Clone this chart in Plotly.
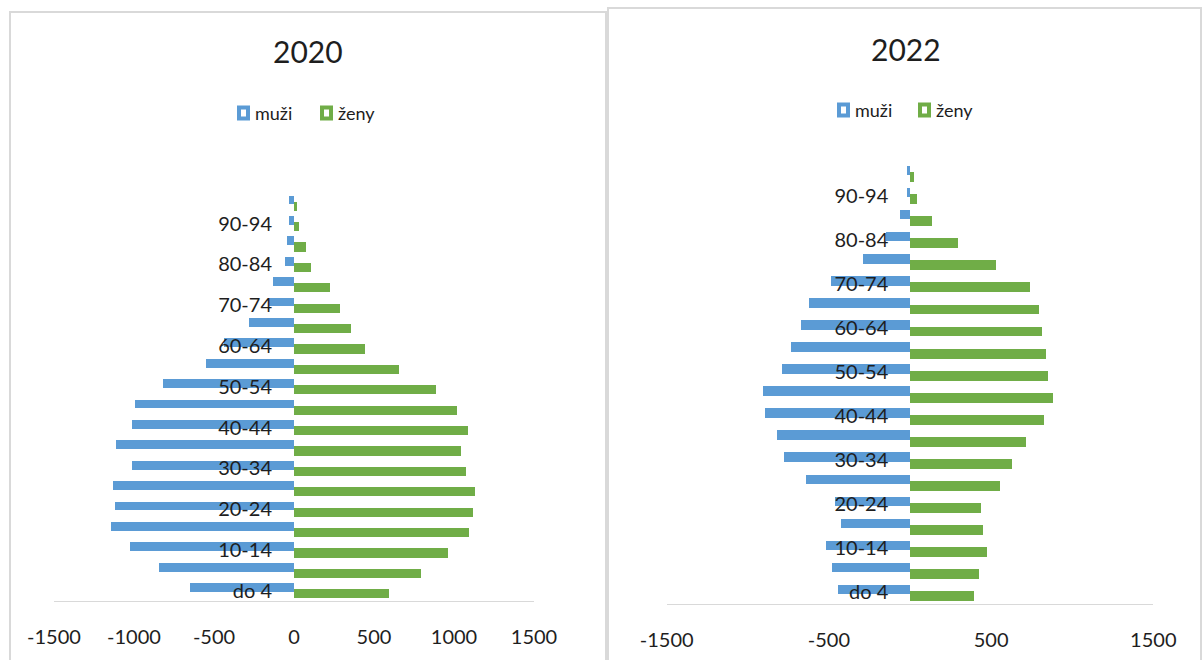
import plotly.graph_objects as go

# ---------------- data ----------------
age_groups = ["do 4", "5-9", "10-14", "15-19", "20-24", "25-29", "30-34", "35-39",
              "40-44", "45-49", "50-54", "55-59", "60-64", "65-69", "70-74", "75-79",
              "80-84", "85-89", "90-94", "95+"]
age_ticks = ["do 4", "10-14", "20-24", "30-34", "40-44", "50-54", "60-64", "70-74", "80-84", "90-94"]

men_2020 = [648, 842, 1025, 1146, 1121, 1129, 1011, 1114, 1011, 994,
            817, 552, 437, 279, 156, 133, 54, 46, 29, 29]
women_2020 = [596, 796, 964, 1094, 1117, 1133, 1077, 1046, 1086, 1021,
              886, 658, 444, 354, 289, 227, 106, 73, 31, 17]

men_2022 = [445, 484, 522, 428, 465, 642, 778, 824, 895, 911,
            792, 736, 673, 625, 490, 293, 151, 63, 23, 23]
women_2022 = [391, 424, 471, 447, 433, 551, 630, 716, 827, 882,
              849, 835, 812, 794, 741, 529, 297, 132, 44, 22]

x_ticks_2020 = [-1500, -1000, -500, 0, 500, 1000, 1500]
x_ticks_2022 = [-1500, -500, 500, 1500]

series_names = ["muži", "ženy"]
titles = ["2020", "2022"]

# ---------------- style ----------------
W, H = 1202, 660
BLUE = "#5B9BD5"
GREEN = "#70AD47"
TXT = "#1e1e1e"
FONT = "Lato"
BORDER = "#d9d9d9"


def px(x):
    return x / W


def py(y):
    return 1 - y / H


fig = go.Figure()

panels = [
    dict(men=men_2020, women=women_2020, xa="x", ya="y", xticks=x_ticks_2020,
         xdom=(54, 534), ydom=(601, 193), zero=294, title=titles[0],
         title_xy=(308, 51), leg_y=113, leg=(237, 253, 320, 336),
         box=(10, 12, 606, 700)),
    dict(men=men_2022, women=women_2022, xa="x2", ya="y2", xticks=x_ticks_2022,
         xdom=(666.7, 1153.3), ydom=(603.5, 162.6), zero=910.3, title=titles[1],
         title_xy=(906, 49), leg_y=110, leg=(837, 853, 918, 934),
         box=(608, 8, 1201, 700)),
]

shapes = []
annotations = []
layout_axes = {}

for i, p in enumerate(panels):
    fig.add_trace(go.Bar(
        y=age_groups, x=[-v for v in p["men"]], orientation="h",
        marker=dict(color=BLUE, line=dict(width=0)), offset=-0.06, width=0.43,
        name=series_names[0], xaxis=p["xa"], yaxis=p["ya"], showlegend=False))
    fig.add_trace(go.Bar(
        y=age_groups, x=p["women"], orientation="h",
        marker=dict(color=GREEN, line=dict(width=0)), offset=-0.37, width=0.45,
        name=series_names[1], xaxis=p["xa"], yaxis=p["ya"], showlegend=False))

    xkey = "xaxis" if i == 0 else "xaxis2"
    ykey = "yaxis" if i == 0 else "yaxis2"
    layout_axes[xkey] = dict(
        domain=[px(p["xdom"][0]), px(p["xdom"][1])], anchor=p["ya"],
        range=[-1500, 1500], tickmode="array", tickvals=p["xticks"],
        ticktext=[str(v) for v in p["xticks"]], showline=True, linecolor=BORDER,
        linewidth=1, showgrid=False, zeroline=False, ticks="",
        ticklabelstandoff=18, tickfont=dict(family=FONT, size=20, color=TXT),
        automargin=False, fixedrange=True)
    layout_axes[ykey] = dict(
        domain=[py(p["ydom"][0]), py(p["ydom"][1])], type="category",
        categoryorder="array", categoryarray=age_groups,
        range=[-0.5, len(age_groups) - 0.5], anchor="free",
        position=px(p["zero"]), tickmode="array", tickvals=age_ticks,
        showline=False, showgrid=False, zeroline=False, ticks="",
        ticklabelstandoff=22, tickfont=dict(family=FONT, size=20, color=TXT),
        automargin=False, fixedrange=True)

    # panel border
    bx0, by0, bx1, by1 = p["box"]
    shapes.append(dict(type="rect", xref="paper", yref="paper",
                       x0=px(bx0), x1=px(bx1), y0=py(by1), y1=py(by0),
                       line=dict(color=BORDER, width=2), fillcolor="rgba(0,0,0,0)",
                       layer="below"))
    # title
    annotations.append(dict(text=p["title"], xref="paper", yref="paper",
                            x=px(p["title_xy"][0]), y=py(p["title_xy"][1]),
                            xanchor="center", yanchor="middle", showarrow=False,
                            font=dict(family=FONT, size=30, color=TXT)))
    # legend (swatch + text)
    mb, tb, mg, tg = p["leg"]
    ly = p["leg_y"]
    for mx, tx, col, name in ((mb, tb, BLUE, series_names[0]), (mg, tg, GREEN, series_names[1])):
        shapes.append(dict(type="rect", xref="paper", yref="paper",
                           x0=px(mx + 2), x1=px(mx + 13 - 2),
                           y0=py(ly + 7.5 - 2), y1=py(ly - 7.5 + 2),
                           line=dict(color=col, width=4), fillcolor="white"))
        annotations.append(dict(text=name, xref="paper", yref="paper",
                                x=px(tx), y=py(ly), xanchor="left", yanchor="middle",
                                showarrow=False,
                                font=dict(family=FONT, size=18, color=TXT)))

fig.update_layout(
    width=W, height=H, autosize=False,
    margin=dict(l=0, r=0, t=0, b=0, autoexpand=False),
    paper_bgcolor="white", plot_bgcolor="white",
    barmode="overlay", bargap=0, showlegend=False,
    shapes=shapes, annotations=annotations,
    font=dict(family=FONT, color=TXT),
    **layout_axes,
)

fig.write_html("out.html", config={"displayModeBar": False},
               post_script="document.body.style.margin='0';document.body.style.overflow='hidden';")
